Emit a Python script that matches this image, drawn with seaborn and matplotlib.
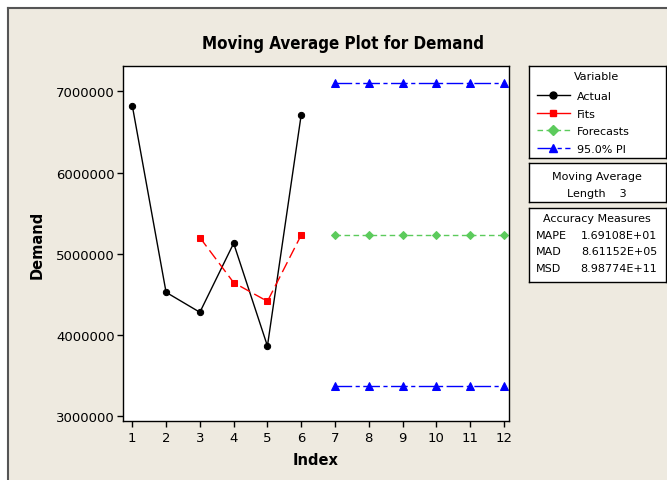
import pandas as pd
import seaborn as sns
import matplotlib.pyplot as plt
from matplotlib.lines import Line2D
from matplotlib.patches import Rectangle

# data
actual_idx = [1, 2, 3, 4, 5, 6]
actual = [6823000, 4526000, 4280000, 5129000, 3865000, 6712000]
fits_idx = [3, 4, 5, 6]
fits = [5200000, 4645000, 4415000, 5231000]
fc_idx = [7, 8, 9, 10, 11, 12]
forecasts = [5231000, 5231000, 5231000, 5231000, 5231000, 5231000]
pi_upper = [7098000, 7098000, 7098000, 7098000, 7098000, 7098000]
pi_lower = [3373000, 3373000, 3373000, 3373000, 3373000, 3373000]

y_ticks = [3000000, 4000000, 5000000, 6000000, 7000000]
x_ticks = list(range(1, 13))

accuracy = [("MAPE", "1.69108E+01"), ("MAD", "8.61152E+05"), ("MSD", "8.98774E+11")]

BG = "#EEEAE0"
GREEN = "#5CCB5C"

plt.rcParams["font.family"] = ["DejaVu Sans"]

W, H = 667, 481
fig = plt.figure(figsize=(W / 100, H / 100), dpi=100)
fig.patch.set_facecolor("white")


def fx(x):
  return x / W


def fy(y):
  return 1 - y / H


# beige panel with dark edge on the left and top
fig.patches.append(Rectangle((fx(8), 0), 1, fy(9), transform=fig.transFigure,
                             facecolor=BG, edgecolor="none", zorder=-10))
fig.add_artist(Line2D([fx(8), fx(8)], [0, fy(9)], color="#555555", lw=1.5, transform=fig.transFigure))
fig.add_artist(Line2D([fx(8), 1], [fy(9), fy(9)], color="#555555", lw=1.5, transform=fig.transFigure))

ax = fig.add_axes([fx(123), fy(422), fx(509 - 123), (422 - 67) / H])
ax.set_facecolor("white")

df_act = pd.DataFrame({"Index": actual_idx, "Demand": actual})
df_fit = pd.DataFrame({"Index": fits_idx, "Demand": fits})
df_fc = pd.DataFrame({"Index": fc_idx, "Demand": forecasts})
df_up = pd.DataFrame({"Index": fc_idx, "Demand": pi_upper})
df_lo = pd.DataFrame({"Index": fc_idx, "Demand": pi_lower})

red_ls = (0, (8, 3.5))
green_ls = (0, (4, 2.5))
blue_ls = (0, (12, 2.5, 3, 2.5))

sns.lineplot(data=df_act, x="Index", y="Demand", ax=ax, color="black", lw=1,
             marker="o", markersize=4.5, markeredgecolor="black")
sns.lineplot(data=df_fit, x="Index", y="Demand", ax=ax, color="red", lw=1,
             linestyle=red_ls, marker="s", markersize=5, markeredgecolor="red")
sns.lineplot(data=df_fc, x="Index", y="Demand", ax=ax, color=GREEN, lw=1,
             linestyle=green_ls, marker="D", markersize=4.5, markeredgecolor=GREEN)
sns.lineplot(data=df_up, x="Index", y="Demand", ax=ax, color="blue", lw=1,
             linestyle=blue_ls, marker="^", markersize=5.5, markeredgecolor="blue")
sns.lineplot(data=df_lo, x="Index", y="Demand", ax=ax, color="blue", lw=1,
             linestyle=blue_ls, marker="^", markersize=5.5, markeredgecolor="blue")

ax.set_xlim(0.725, 12.15)
ax.set_ylim(2942000, 7311000)
ax.set_xticks(x_ticks)
ax.set_xticklabels([str(t) for t in x_ticks], fontsize=9.5)
ax.set_yticks(y_ticks)
ax.set_yticklabels([str(t) for t in y_ticks], fontsize=9.5)
ax.tick_params(direction="out", length=4, width=1, colors="black", pad=2)
ax.tick_params(axis="x", pad=3)
for s in ax.spines.values():
  s.set_linewidth(1)
  s.set_color("black")
ax.set_xlabel("Index", fontsize=10.5, fontweight="bold", labelpad=6)
ax.set_ylabel("Demand", fontsize=10.5, fontweight="bold", labelpad=8)

fig.text(fx(343), fy(44), "Moving Average Plot for Demand", ha="center", va="center",
         fontsize=12.2, fontweight="bold", fontstretch="condensed")


def box(y0, y1):
  b = fig.add_axes([fx(529), fy(y1), fx(666 - 529), (y1 - y0) / H])
  b.set_facecolor("white")
  b.set_xticks([])
  b.set_yticks([])
  b.set_xlim(0, 666 - 529)
  b.set_ylim(y1 - y0, 0)
  for s in b.spines.values():
    s.set_linewidth(1)
    s.set_color("black")
  return b


fs = 8
# variable legend
b1 = box(67, 159)
b1.text(68, 10, "Variable", ha="center", va="center", fontsize=fs)
handles = [
  Line2D([], [], color="black", lw=1, marker="o", markersize=5),
  Line2D([], [], color="red", lw=1, marker="s", markersize=5),
  Line2D([], [], color=GREEN, lw=1, linestyle=green_ls, marker="D", markersize=5),
  Line2D([], [], color="blue", lw=1, linestyle=blue_ls, marker="^", markersize=6),
]
labels = ["Actual", "Fits", "Forecasts", "95.0% PI"]
b1.legend(handles, labels, loc="upper left", bbox_to_anchor=(0.0, 0.815), frameon=False,
          fontsize=fs, handlelength=3.0, handletextpad=0.6, labelspacing=0.7,
          borderaxespad=0.3)

b2 = box(164, 203)
b2.text(68, 13, "Moving Average", ha="center", va="center", fontsize=fs)
b2.text(68, 30, "Length    3", ha="center", va="center", fontsize=fs)

b3 = box(209, 283)
b3.text(68, 10, "Accuracy Measures", ha="center", va="center", fontsize=fs)
for i, (name, val) in enumerate(accuracy):
  yy = 27 + i * 16.5
  b3.text(7, yy, name, ha="left", va="center", fontsize=fs)
  b3.text(128, yy, val, ha="right", va="center", fontsize=fs)

fig.savefig("out.png", dpi=100, facecolor=fig.get_facecolor())
